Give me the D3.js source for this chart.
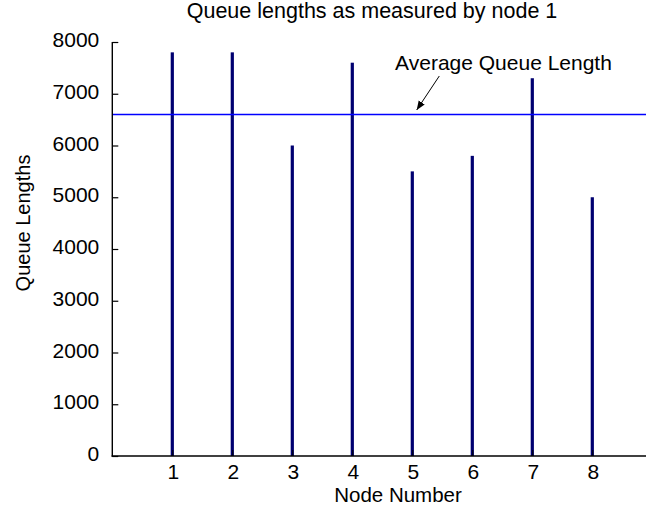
<!DOCTYPE html>
<html><head><meta charset="utf-8">
<script src="https://cdn.jsdelivr.net/npm/d3@7"></script>
<style>body{margin:0;background:#fff}svg{display:block}text{font-family:"Liberation Sans",Arial,Helvetica,sans-serif;fill:#000}</style>
</head><body>
<svg id="c" width="646" height="508"></svg>
<script>
const nodes = [1, 2, 3, 4, 5, 6, 7, 8];
const queueLengths = [7800, 7800, 6000, 7600, 5500, 5800, 7300, 5000];
const yTicks = [0, 1000, 2000, 3000, 4000, 5000, 6000, 7000, 8000];
const xTicks = [1, 2, 3, 4, 5, 6, 7, 8];
const titleText = "Queue lengths as measured by node 1";
const xLabel = "Node Number";
const yLabel = "Queue Lengths";
const annotationText = "Average Queue Length";
const averageLength = d3.mean(queueLengths);

const svg = d3.select("#c");
const x = d3.scaleLinear().domain([0, 9]).range([112.3, 652.3]);
const y = d3.scaleLinear().domain([0, 8000]).range([456, 42]);

// bars
svg.append("g").selectAll("rect").data(nodes).join("rect")
  .attr("x", d => x(d) - 1.6)
  .attr("width", 3.2)
  .attr("y", (d, i) => y(queueLengths[i]))
  .attr("height", (d, i) => y(0) - y(queueLengths[i]))
  .attr("fill", "#000070");

// average line
svg.append("line")
  .attr("x1", x(0)).attr("x2", 646)
  .attr("y1", y(averageLength)).attr("y2", y(averageLength))
  .attr("stroke", "#0000ff").attr("stroke-width", 1.4);

// y axis (ticks inward)
const yAxis = d3.axisRight(y).tickValues(yTicks).tickSize(6).tickFormat("");
const gy = svg.append("g").attr("transform", `translate(${x(0)},0)`).call(yAxis);
gy.select(".domain").remove();
gy.selectAll(".tick line").attr("stroke", "#000").attr("stroke-width", 1.2);
svg.append("g").selectAll("text").data(yTicks).join("text")
  .attr("x", x(0) - 13).attr("y", d => y(d) + 5)
  .attr("text-anchor", "end").attr("font-size", 21)
  .text(d => d);

// x axis
const xAxis = d3.axisTop(x).tickValues(xTicks).tickSize(6).tickFormat("");
const gx = svg.append("g").attr("transform", `translate(0,${y(0)})`).call(xAxis);
gx.select(".domain").remove();
gx.selectAll(".tick line").attr("stroke", "#000");
svg.append("g").selectAll("text").data(xTicks).join("text")
  .attr("x", d => x(d) + 1).attr("y", y(0) + 22.8)
  .attr("text-anchor", "middle").attr("font-size", 21)
  .text(d => d);

// spines
svg.append("line").attr("x1", x(0)).attr("x2", x(0)).attr("y1", y(8000)).attr("y2", y(0) + 0.7)
  .attr("stroke", "#000").attr("stroke-width", 1.4);
svg.append("line").attr("x1", x(0) - 0.7).attr("x2", 646).attr("y1", y(0)).attr("y2", y(0))
  .attr("stroke", "#000").attr("stroke-width", 1.4);

// labels
svg.append("text").attr("x", 398).attr("y", 501.8).attr("text-anchor", "middle")
  .attr("font-size", 20.5).text(xLabel);
svg.append("text").attr("transform", "translate(30,223) rotate(-90)").attr("text-anchor", "middle")
  .attr("font-size", 20).text(yLabel);
svg.append("text").attr("x", 372).attr("y", 17.5).attr("text-anchor", "middle")
  .attr("font-size", 21.5).text(titleText);

// annotation
svg.append("text").attr("x", 503.5).attr("y", 70).attr("text-anchor", "middle")
  .attr("font-size", 21).text(annotationText);
svg.append("defs").append("marker").attr("id", "ah")
  .attr("viewBox", "0 0 10 10").attr("refX", 10).attr("refY", 5)
  .attr("markerWidth", 9).attr("markerHeight", 9).attr("markerUnits", "userSpaceOnUse")
  .attr("orient", "auto")
  .append("path").attr("d", "M0,1 L10,5 L0,9 Z").attr("fill", "#000");
svg.append("line").attr("x1", 439.3).attr("y1", 76).attr("x2", 416.7).attr("y2", 110)
  .attr("stroke", "#000").attr("stroke-width", 1).attr("marker-end", "url(#ah)");
</script>
</body></html>
